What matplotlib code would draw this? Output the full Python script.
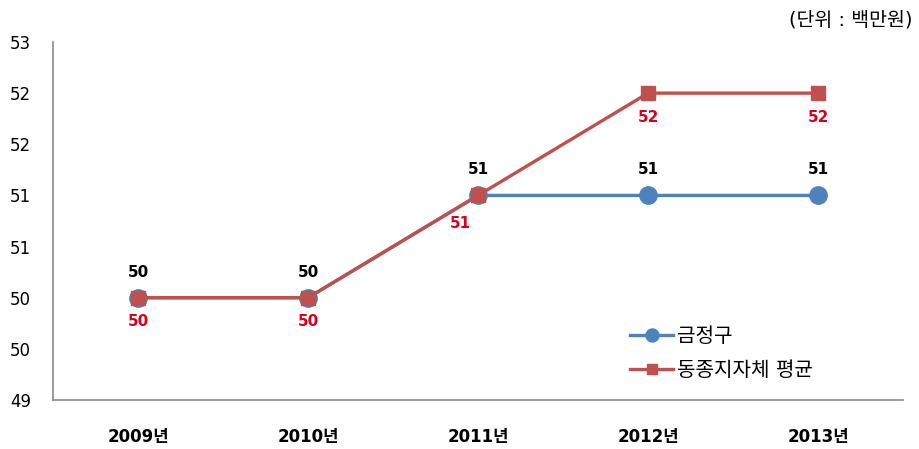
import matplotlib
matplotlib.use('Agg')
import matplotlib.pyplot as plt

plt.rcParams['font.family'] = ['DejaVu Sans', 'Noto Sans CJK KR']

# data
years = ['2009년', '2010년', '2011년', '2012년', '2013년']
geumjeong = [50, 50, 51, 51, 51]
peer_avg = [50, 50, 51, 52, 52]
y_ticks = [49, 49.5, 50, 50.5, 51, 51.5, 52, 52.5]
y_tick_labels = ['49', '50', '50', '51', '51', '52', '52', '53']

blue = '#4F81BD'
red = '#C0504D'

fig = plt.figure(figsize=(9.2, 4.49), dpi=100)
ax = fig.add_axes([0.0576, 0.1091, 0.924, 0.7974])

x = list(range(len(years)))
ax.plot(x, geumjeong, color=blue, lw=2.4, marker='o', ms=12.5, label='금정구', zorder=3)
ax.plot(x, peer_avg, color=red, lw=2.4, marker='s', ms=10, label='동종지자체 평균', zorder=4)

# data labels
for i, v in enumerate(geumjeong):
    ax.annotate(str(v), (i, v), xytext=(0, 13), textcoords='offset points',
                ha='center', va='bottom', fontsize=11, fontweight='bold', color='black')
for i, v in enumerate(peer_avg):
    dx = -13 if i == 2 else 0
    dy = -15 if i == 2 else -12
    ax.annotate(str(v), (i, v), xytext=(dx, dy), textcoords='offset points',
                ha='center', va='top', fontsize=11, fontweight='bold', color='#D9001B')

ax.set_xlim(-0.5, len(years) - 0.5)
ax.set_ylim(49, 52.5)
ax.set_xticks(x)
ax.set_xticklabels(years, fontsize=12, fontweight='bold')
ax.set_yticks(y_ticks)
ax.set_yticklabels(y_tick_labels, fontsize=12)
ax.tick_params(axis='both', length=0)
ax.tick_params(axis='x', pad=20)
ax.tick_params(axis='y', pad=16)

for s in ['top', 'right']:
    ax.spines[s].set_visible(False)
for s in ['left', 'bottom']:
    ax.spines[s].set_color('#898989')
    ax.spines[s].set_linewidth(1.2)

ax.legend(loc='center left', bbox_to_anchor=(0.658, 0.13), frameon=False, fontsize=14.5,
          handlelength=2.1, labelspacing=0.78, handletextpad=0.2, markerscale=0.75)

fig.text(0.992, 0.955, '(단위 : 백만원)', ha='right', va='center', fontsize=14)

plt.savefig('out.png', dpi=100)
plt.close()
